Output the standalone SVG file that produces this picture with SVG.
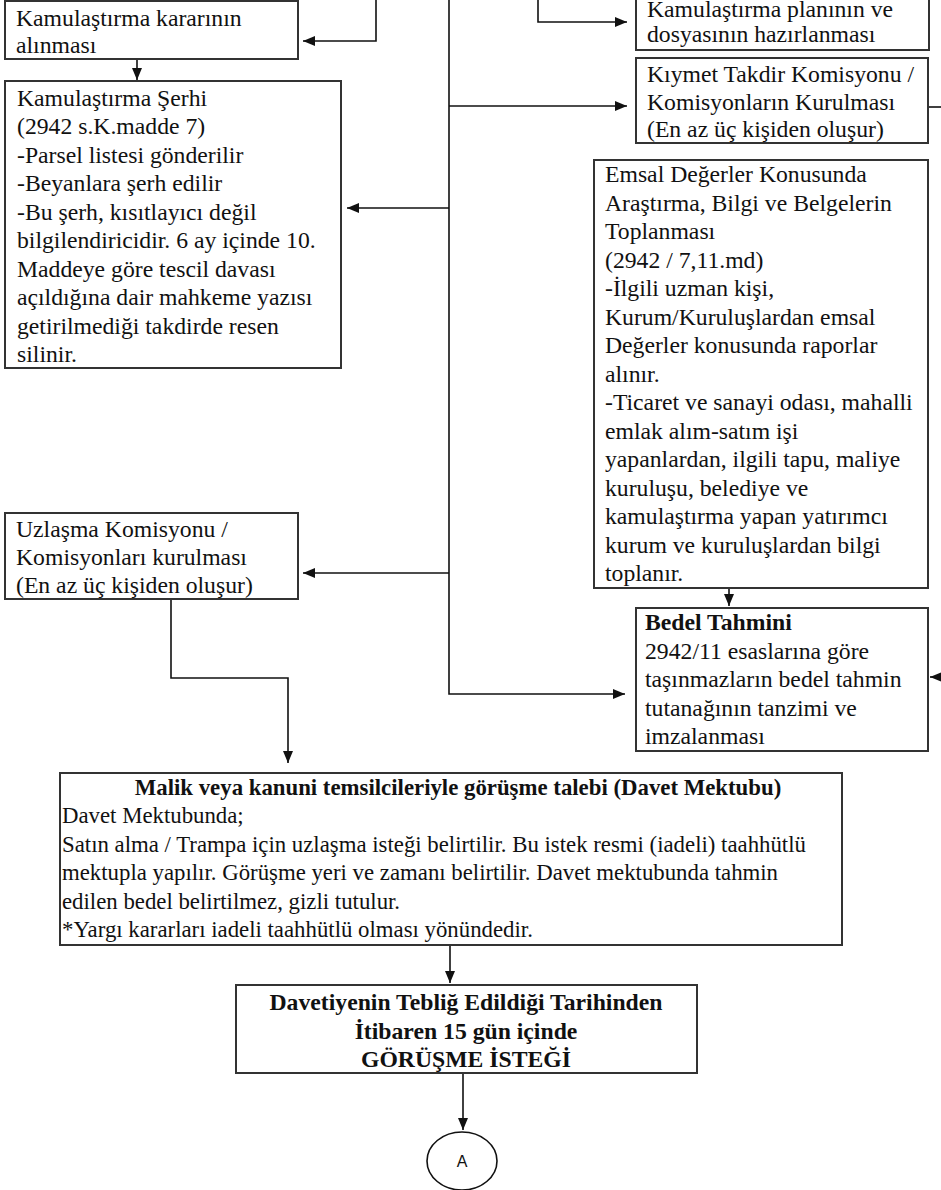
<svg xmlns="http://www.w3.org/2000/svg" width="941" height="1190" viewBox="0 0 941 1190">
<defs>
<marker id="arr" markerUnits="userSpaceOnUse" markerWidth="12" markerHeight="10" refX="12" refY="5" orient="auto">
<path d="M0,0 L12,5 L0,10 z" fill="#111"/>
</marker>
<style>
.box{fill:#fff;stroke:#333;stroke-width:2}
.t{font-family:"Liberation Serif","Times New Roman",serif;font-size:23.7px;fill:#111}
.s{font-size:22.8px}
.b{font-weight:bold}
.c{text-anchor:middle}
.ln{fill:none;stroke:#111;stroke-width:1.6}
.a{marker-end:url(#arr)}
</style>
</defs>
<rect width="941" height="1190" fill="#fff"/>
<g id="connectors">
<path class="ln a" d="M376,0 V41 H303"/>
<path class="ln a" d="M137,59 V80"/>
<path class="ln a" d="M538,0 V22 H627"/>
<path class="ln a" d="M449,0 V694 H625"/>
<path class="ln a" d="M449,106 H627"/>
<path class="ln a" d="M449,208 H347"/>
<path class="ln a" d="M449,573 H303"/>
<path class="ln" d="M929,107 H941"/>
<path class="ln a" d="M941,677 H930"/>
<path class="ln a" d="M729,588 V606"/>
<path class="ln a" d="M171,599 V678 H288 V763"/>
<path class="ln a" d="M450,945 V983"/>
<path class="ln a" d="M463,1073 V1130"/>
</g>
<g id="karar">
<rect class="box" x="5" y="1" width="293" height="58"/>
<text class="t" x="16" y="26">Kamulaştırma kararının</text>
<text class="t" x="16" y="53">alınması</text>
</g>
<g id="serh">
<rect class="box" x="5" y="81" width="336" height="287"/>
<text class="t" x="17" y="105.5">Kamulaştırma Şerhi</text>
<text class="t" x="17" y="134">(2942 s.K.madde 7)</text>
<text class="t" x="17" y="162.5">-Parsel listesi gönderilir</text>
<text class="t" x="17" y="191">-Beyanlara şerh edilir</text>
<text class="t" x="17" y="219.5">-Bu şerh, kısıtlayıcı değil</text>
<text class="t" x="17" y="248">bilgilendiricidir. 6 ay içinde 10.</text>
<text class="t" x="17" y="276.5">Maddeye göre tescil davası</text>
<text class="t" x="17" y="305">açıldığına dair mahkeme yazısı</text>
<text class="t" x="17" y="333.5">getirilmediği takdirde resen</text>
<text class="t" x="17" y="362">silinir.</text>
</g>
<g id="plan">
<rect class="box" x="636" y="-2" width="293" height="52"/>
<text class="t" x="647" y="17">Kamulaştırma planının ve</text>
<text class="t" x="647" y="42">dosyasının hazırlanması</text>
</g>
<g id="kiymet">
<rect class="box" x="636" y="58" width="292" height="85"/>
<text class="t" x="647" y="82">Kıymet Takdir Komisyonu /</text>
<text class="t" x="647" y="110">Komisyonların Kurulması</text>
<text class="t" x="647" y="137">(En az üç kişiden oluşur)</text>
</g>
<g id="emsal">
<rect class="box" x="594" y="160" width="334" height="428"/>
<text class="t" x="605" y="182">Emsal Değerler Konusunda</text>
<text class="t" x="605" y="210.5">Araştırma, Bilgi ve Belgelerin</text>
<text class="t" x="605" y="239">Toplanması</text>
<text class="t" x="605" y="267.5">(2942 / 7,11.md)</text>
<text class="t" x="605" y="296">-İlgili uzman kişi,</text>
<text class="t" x="605" y="324.5">Kurum/Kuruluşlardan emsal</text>
<text class="t" x="605" y="353">Değerler konusunda raporlar</text>
<text class="t" x="605" y="381.5">alınır.</text>
<text class="t" x="605" y="410">-Ticaret ve sanayi odası, mahalli</text>
<text class="t" x="605" y="438.5">emlak alım-satım işi</text>
<text class="t" x="605" y="467">yapanlardan, ilgili tapu, maliye</text>
<text class="t" x="605" y="495.5">kuruluşu, belediye ve</text>
<text class="t" x="605" y="524">kamulaştırma yapan yatırımcı</text>
<text class="t" x="605" y="552.5">kurum ve kuruluşlardan bilgi</text>
<text class="t" x="605" y="581">toplanır.</text>
</g>
<g id="bedel">
<rect class="box" x="636" y="608" width="292" height="143"/>
<text class="t b" x="645" y="630">Bedel Tahmini</text>
<text class="t" x="645" y="658.5">2942/11 esaslarına göre</text>
<text class="t" x="645" y="687">taşınmazların bedel tahmin</text>
<text class="t" x="645" y="715.5">tutanağının tanzimi ve</text>
<text class="t" x="645" y="744">imzalanması</text>
</g>
<g id="uzlasma">
<rect class="box" x="5" y="513" width="293" height="86"/>
<text class="t" x="16" y="537">Uzlaşma Komisyonu /</text>
<text class="t" x="16" y="565">Komisyonları kurulması</text>
<text class="t" x="16" y="593">(En az üç kişiden oluşur)</text>
</g>
<g id="davet">
<rect class="box" x="60" y="773" width="782" height="172"/>
<text class="t s b c" x="458" y="795">Malik veya kanuni temsilcileriyle görüşme talebi (Davet Mektubu)</text>
<text class="t s" x="62" y="823">Davet Mektubunda;</text>
<text class="t s" x="62" y="851.5">Satın alma / Trampa için uzlaşma isteği belirtilir. Bu istek resmi (iadeli) taahhütlü</text>
<text class="t s" x="62" y="880">mektupla yapılır. Görüşme yeri ve zamanı belirtilir. Davet mektubunda tahmin</text>
<text class="t s" x="62" y="908.5">edilen bedel belirtilmez, gizli tutulur.</text>
<text class="t s" x="62" y="937">*Yargı kararları iadeli taahhütlü olması yönündedir.</text>
</g>
<g id="gorusme">
<rect class="box" x="236" y="985" width="461" height="88"/>
<text class="t b c" x="466" y="1010">Davetiyenin Tebliğ Edildiği Tarihinden</text>
<text class="t b c" x="466" y="1039">İtibaren 15 gün içinde</text>
<text class="t b c" x="466" y="1067">GÖRÜŞME İSTEĞİ</text>
</g>
<g id="A">
<ellipse cx="462" cy="1161" rx="35" ry="29" fill="#fff" stroke="#111" stroke-width="1.6"/>
<text x="462" y="1167" text-anchor="middle" font-family="Liberation Sans, Arial, sans-serif" font-size="16" fill="#111">A</text>
</g>
</svg>
